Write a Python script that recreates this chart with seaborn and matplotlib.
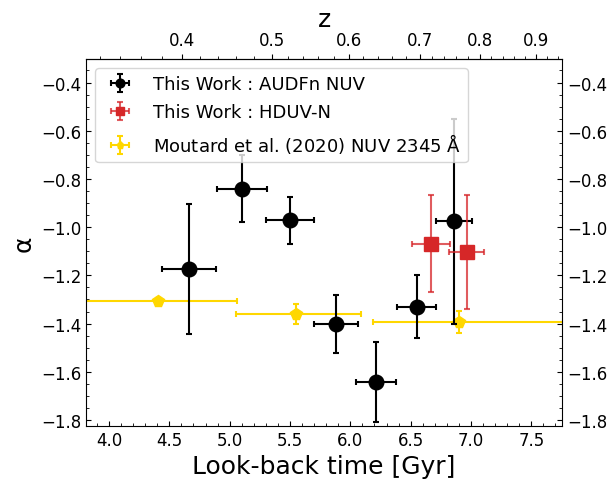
import numpy as np
import matplotlib
matplotlib.use("Agg")
import matplotlib.pyplot as plt
import seaborn as sns
from matplotlib.ticker import MultipleLocator

# This Work : AUDFn NUV
audf_t = [4.66, 5.10, 5.50, 5.88, 6.21, 6.55, 6.86]
audf_terr = [0.225, 0.207, 0.197, 0.18, 0.165, 0.163, 0.148]
audf_alpha = [-1.175, -0.84, -0.972, -1.402, -1.644, -1.33, -0.976]
audf_aerr = [0.27, 0.14, 0.097, 0.12, 0.166, 0.131, 0.425]

# This Work : HDUV-N
hduv_t = [6.67, 6.966]
hduv_terr = [0.155, 0.145]
hduv_alpha = [-1.068, -1.102]
hduv_aerr = [0.202, 0.237]

# Moutard et al. (2020)
mout_t = [4.41, 5.55, 6.90]
mout_terr_lo = [0.65, 0.50, 0.715]
mout_terr_hi = [0.65, 0.54, 0.86]
mout_alpha = [-1.305, -1.361, -1.393]
mout_aerr = [0.012, 0.042, 0.044]

# redshift vs look-back time used for the top axis
z_ref = [0.3, 0.4, 0.5, 0.6, 0.7, 0.8, 0.9, 1.0]
t_ref = [3.755, 4.605, 5.352, 5.99, 6.579, 7.076, 7.541, 7.99]

sns.set_style("ticks")
plt.rcParams['font.family'] = ['DejaVu Sans']
plt.rcParams['mathtext.default'] = 'regular'
plt.rcParams['text.color'] = 'black'
plt.rcParams['axes.edgecolor'] = 'black'
plt.rcParams['axes.labelcolor'] = 'black'
plt.rcParams['xtick.color'] = 'black'
plt.rcParams['ytick.color'] = 'black'

fig = plt.figure(figsize=(6.15, 4.85), dpi=100)
ax = fig.add_axes([0.140, 0.120, 0.774, 0.756])

ax.errorbar(audf_t, audf_alpha, xerr=audf_terr, yerr=audf_aerr, fmt='o',
            color='black', ms=10.5, elinewidth=1.5, capsize=2.5, capthick=1.5,
            label="This Work : AUDFn NUV", zorder=3)
ax.errorbar(hduv_t, hduv_alpha, xerr=hduv_terr, yerr=hduv_aerr, fmt='s',
            color='tab:red', ecolor=(0.84, 0.15, 0.16, 0.75), ms=10,
            elinewidth=1.5, capsize=2.5, capthick=1.5,
            label="This Work : HDUV-N", zorder=3)
ax.errorbar(mout_t, mout_alpha, xerr=[mout_terr_lo, mout_terr_hi], yerr=mout_aerr,
            fmt='p', color='gold', ms=8.5, elinewidth=1.5, capsize=2.5, capthick=1.5,
            label=r"Moutard et al. (2020) NUV 2345 $\mathrm{\AA}$", zorder=2)

ax.set_xlim(3.81, 7.755)
ax.set_ylim(-1.824, -0.303)
ax.xaxis.set_major_locator(MultipleLocator(0.5))
ax.xaxis.set_minor_locator(MultipleLocator(0.1))
ax.yaxis.set_major_locator(MultipleLocator(0.2))
ax.yaxis.set_minor_locator(MultipleLocator(0.05))
ax.tick_params(which='both', direction='in', right=True, labelright=True,
               top=False, labelsize=12)
ax.set_xlabel("Look-back time [Gyr]", fontsize=18)
ax.set_ylabel("α", fontsize=18)

t2z = lambda t: np.interp(t, t_ref, z_ref)
z2t = lambda z: np.interp(z, z_ref, t_ref)
secax = ax.secondary_xaxis('top', functions=(t2z, z2t))
secax.xaxis.set_major_locator(MultipleLocator(0.1))
secax.xaxis.set_minor_locator(MultipleLocator(0.02))
secax.tick_params(which='both', direction='out', labelsize=12)
secax.set_xlabel("z", fontsize=18)

ax.legend(loc='upper left', fontsize=13, markerscale=0.6, labelspacing=0.55)

fig.savefig("out.png", dpi=100)
